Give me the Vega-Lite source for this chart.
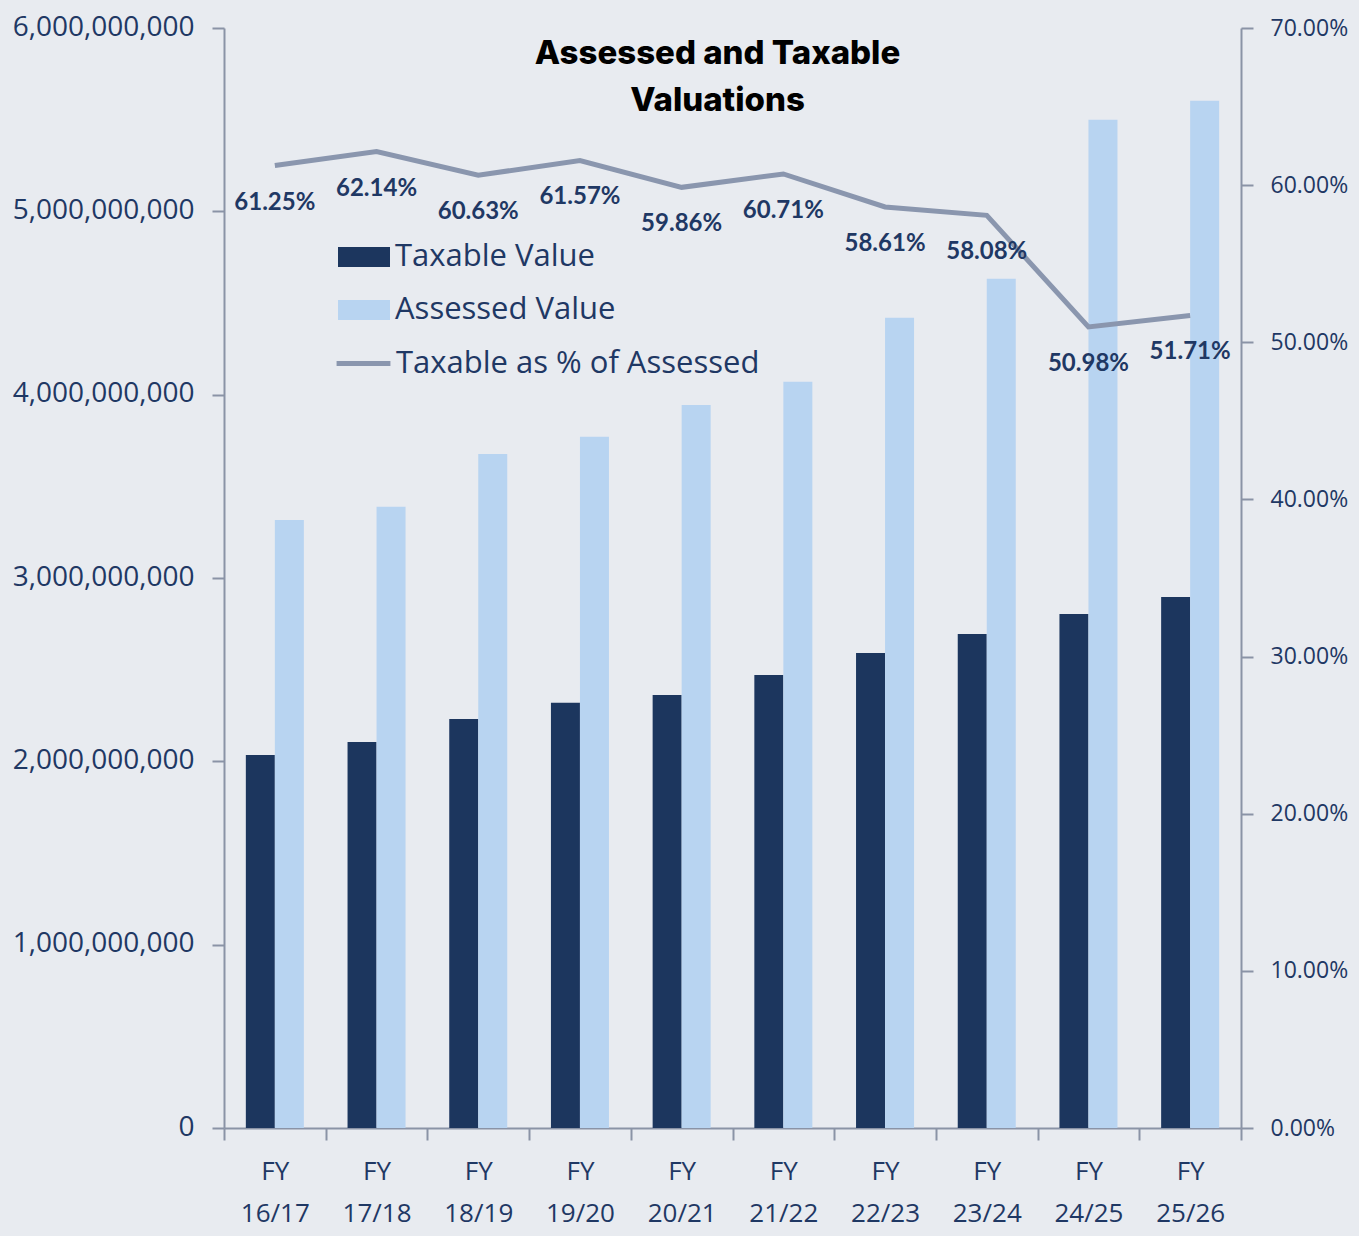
{
  "$schema": "https://vega.github.io/schema/vega-lite/v6.json",
  "width": 1017,
  "height": 1100,
  "autosize": {"type": "none"},
  "padding": {"left": 224, "top": 28, "right": 118, "bottom": 108},
  "background": "#e8ebf0",
  "config": {
    "view": {"stroke": null},
    "font": "Open Sans",
    "axis": {"domainColor": "#8a93a6", "domainWidth": 2, "tickColor": "#8a93a6", "tickWidth": 2, "tickSize": 12, "labelColor": "#1f3864", "grid": false, "title": null, "labelLimit": 0}
  },
  "title": {
    "text": ["Assessed and Taxable", "Valuations"],
    "font": "Inter",
    "fontSize": 33,
    "fontWeight": 800,
    "color": "#000000",
    "lineHeight": 47,
    "anchor": "middle",
    "frame": "group",
    "baseline": "top",
    "dx": -15,
    "dy": 109
  },
  "data": {
    "values": [
      {"fy": "16/17", "Taxable Value": 2035000000, "Assessed Value": 3317000000, "pct": 0.6125},
      {"fy": "17/18", "Taxable Value": 2106000000, "Assessed Value": 3388000000, "pct": 0.6214},
      {"fy": "18/19", "Taxable Value": 2231000000, "Assessed Value": 3677000000, "pct": 0.6063},
      {"fy": "19/20", "Taxable Value": 2319000000, "Assessed Value": 3770000000, "pct": 0.6157},
      {"fy": "20/21", "Taxable Value": 2362000000, "Assessed Value": 3944000000, "pct": 0.5986},
      {"fy": "21/22", "Taxable Value": 2471000000, "Assessed Value": 4070000000, "pct": 0.6071},
      {"fy": "22/23", "Taxable Value": 2591000000, "Assessed Value": 4419000000, "pct": 0.5861},
      {"fy": "23/24", "Taxable Value": 2695000000, "Assessed Value": 4632000000, "pct": 0.5808},
      {"fy": "24/25", "Taxable Value": 2804000000, "Assessed Value": 5499000000, "pct": 0.5098},
      {"fy": "25/26", "Taxable Value": 2897000000, "Assessed Value": 5603000000, "pct": 0.5171}
    ]
  },
  "encoding": {
    "x": {
      "field": "fy", "type": "nominal", "sort": null,
      "scale": {"paddingInner": 0, "paddingOuter": 0},
      "axis": {
        "labelAngle": 0, "tickBand": "extent", "labelExpr": "isValid(datum.value) ? ['FY', datum.value] : ''",
        "labelFontSize": 26, "labelFont": "Open Sans", "labelLineHeight": 42, "labelPadding": 18, "labelBaseline": "top"
      }
    }
  },
  "layer": [
    {
      "transform": [{"fold": ["Taxable Value", "Assessed Value"], "as": ["series", "value"]}],
      "mark": {"type": "bar"},
      "encoding": {
        "xOffset": {"field": "series", "type": "nominal", "sort": ["Taxable Value", "Assessed Value"], "scale": {"paddingInner": 0, "paddingOuter": 0.753}},
        "y": {
          "field": "value", "type": "quantitative",
          "scale": {"domain": [0, 6000000000], "nice": false},
          "axis": {"values": [0, 1000000000, 2000000000, 3000000000, 4000000000, 5000000000, 6000000000], "format": ",d", "labelFontSize": 28, "labelPadding": 18, "labelBaseline": "middle", "labelOffset": -1, "labelLimit": 0}
        },
        "color": {
          "field": "series", "type": "nominal", "sort": ["Taxable Value", "Assessed Value"],
          "scale": {"domain": ["Taxable Value", "Assessed Value"], "range": ["#1c365e", "#b8d4f1"]},
          "legend": {
            "title": null, "orient": "none", "legendX": 114, "legendY": 203,
            "symbolType": "M-1,-0.38H1V0.38H-1Z", "symbolSize": 2704, "symbolStrokeWidth": 0,
            "labelFontSize": 31, "labelColor": "#1f3864", "labelFont": "Open Sans", "labelLimit": 0, "rowPadding": 12, "labelOffset": 5, "padding": 0
          }
        }
      }
    },
    {
      "encoding": {
        "y": {
          "field": "pct", "type": "quantitative",
          "scale": {"domain": [0, 0.7], "nice": false},
          "axis": {"orient": "right", "values": [0, 0.1, 0.2, 0.3, 0.4, 0.5, 0.6, 0.7], "format": ".2%", "labelFontSize": 23, "labelPadding": 17}
        }
      },
      "layer": [
        {
          "mark": {"type": "line", "strokeWidth": 5},
          "encoding": {
            "stroke": {
              "datum": "Taxable as % of Assessed",
              "scale": {"range": ["#8a96ae"]},
              "legend": {
                "title": null, "orient": "none", "legendX": 110, "legendY": 306,
                "symbolType": "stroke", "symbolSize": 2900, "symbolStrokeWidth": 5,
                "labelFontSize": 31, "labelColor": "#1f3864", "labelFont": "Open Sans", "labelLimit": 0, "labelOffset": 3, "padding": 0
              }
            }
          }
        },
        {
          "mark": {"type": "text", "dy": 37, "font": "Lato", "fontWeight": "bold", "fontSize": 24, "color": "#1f3864"},
          "encoding": {"text": {"field": "pct", "type": "quantitative", "format": ".2%"}}
        }
      ]
    }
  ],
  "resolve": {"scale": {"y": "independent"}}
}
